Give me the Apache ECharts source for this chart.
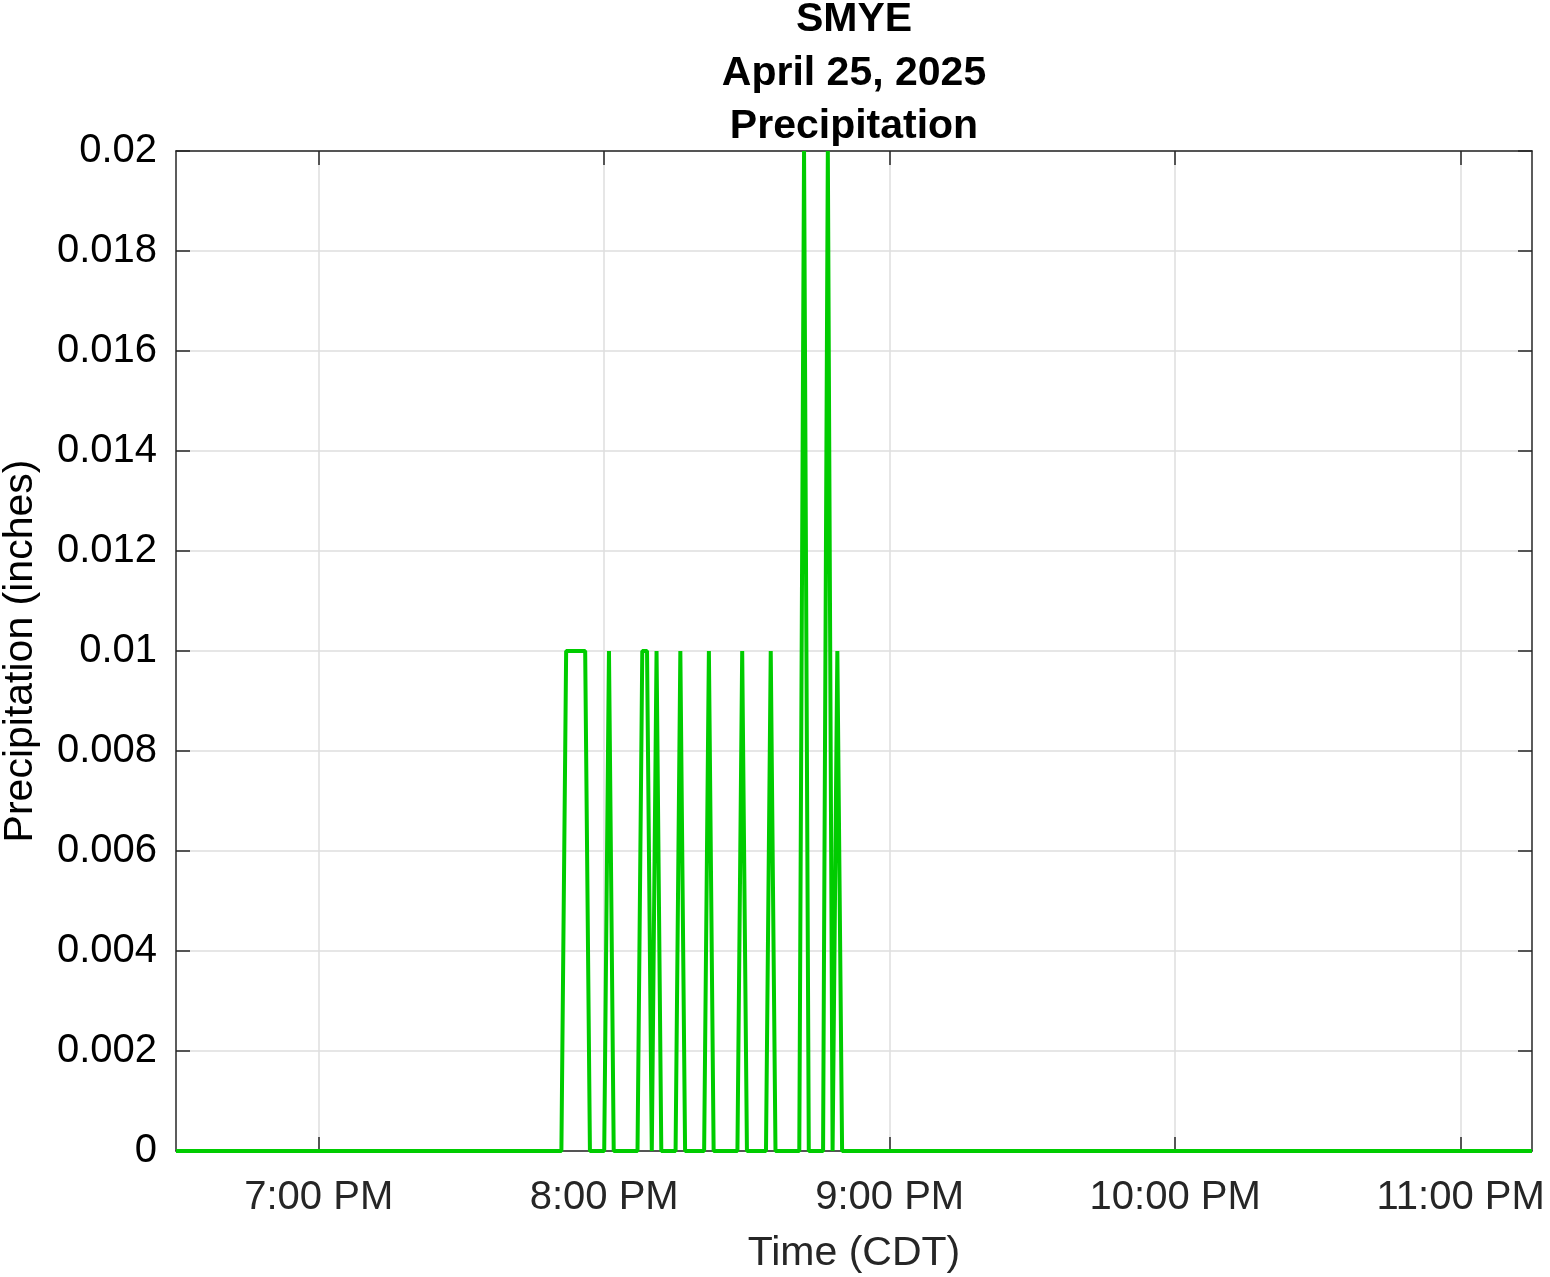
<!DOCTYPE html>
<html>
<head>
<meta charset="utf-8">
<title>SMYE Precipitation</title>
<script src="https://cdn.jsdelivr.net/npm/echarts@6/dist/echarts.min.js"></script>
<style>
  html, body { margin: 0; padding: 0; background: #fff; }
  #chart { width: 1550px; height: 1277px; }
</style>
</head>
<body>
<div id="chart"></div>
<script>
// readings (CDT, HH:MM) and precipitation in inches
const times = ['18:30', '19:51', '19:52', '19:53', '19:54', '19:55', '19:56', '19:57',
  '20:00', '20:01', '20:02', '20:07', '20:08', '20:09', '20:10', '20:11', '20:12',
  '20:15', '20:16', '20:17', '20:21', '20:22', '20:23', '20:28', '20:29', '20:30',
  '20:34', '20:35', '20:36', '20:41', '20:42', '20:43', '20:46', '20:47', '20:48',
  '20:49', '20:50', '23:15'];
const precip = [0, 0, 0.01, 0.01, 0.01, 0.01, 0.01, 0,
  0, 0.01, 0, 0, 0.01, 0.01, 0, 0.01, 0,
  0, 0.01, 0, 0, 0.01, 0, 0, 0.01, 0,
  0, 0.01, 0, 0, 0.02, 0, 0, 0.02, 0,
  0.01, 0, 0];

const xTicks = ['19:00', '20:00', '21:00', '22:00', '23:00'];
const xMin = '18:30';
const xMax = '23:15';
const titleLines = ['SMYE', 'April 25, 2025', 'Precipitation'];

// minutes since midnight
const toMin = s => {
  const p = s.split(':');
  return (+p[0]) * 60 + (+p[1]);
};
const fmtTime = v => {
  const h = Math.floor(v / 60);
  const m = Math.round(v - h * 60);
  const h12 = h > 12 ? h - 12 : h;
  return h12 + ':' + (m < 10 ? '0' + m : m) + (h >= 12 ? ' PM' : ' AM');
};

const seriesData = times.map((t, i) => [toMin(t), precip[i]]);
const tickVals = xTicks.map(toMin);

const font = 'Liberation Sans, Arial, Helvetica, sans-serif';
const axisColor = '#262626';

const chart = echarts.init(document.getElementById('chart'));
chart.setOption({
  animation: false,
  backgroundColor: '#fff',
  textStyle: { fontFamily: font },
  graphic: [{
    type: 'text',
    x: 854,
    y: -7,
    style: {
      text: titleLines.join('\n'),
      align: 'center',
      verticalAlign: 'top',
      fontFamily: font,
      fontWeight: 'bold',
      fontSize: 41,
      lineHeight: 53.5,
      fill: '#000'
    }
  }],
  grid: { left: 176, right: 18, top: 151, bottom: 126, containLabel: false, outerBoundsMode: 'none' },
  xAxis: [{
    type: 'value',
    min: toMin(xMin),
    max: toMin(xMax),
    position: 'bottom',
    name: 'Time (CDT)',
    nameLocation: 'middle',
    nameGap: 82,
    nameTextStyle: { fontSize: 41, color: axisColor, fontFamily: font },
    axisLine: { show: true, onZero: false, lineStyle: { color: axisColor, width: 1.5 } },
    axisTick: { show: true, inside: true, length: 14, customValues: tickVals,
      lineStyle: { color: axisColor, width: 1.5 } },
    axisLabel: { show: true, customValues: tickVals, margin: 27, fontSize: 40,
      color: axisColor, fontFamily: font, formatter: fmtTime },
    splitLine: { show: true, lineStyle: { color: '#dedede', width: 1.5 } }
  }, {
    type: 'value',
    min: toMin(xMin),
    max: toMin(xMax),
    position: 'top',
    axisLine: { show: true, onZero: false, lineStyle: { color: axisColor, width: 1.5 } },
    axisTick: { show: true, inside: true, length: 14, customValues: tickVals,
      lineStyle: { color: axisColor, width: 1.5 } },
    axisLabel: { show: false },
    splitLine: { show: false }
  }],
  yAxis: [{
    type: 'value',
    min: 0,
    max: 0.02,
    interval: 0.002,
    position: 'left',
    name: 'Precipitation (inches)',
    nameLocation: 'middle',
    nameGap: 135,
    nameTextStyle: { fontSize: 41, color: '#000', fontFamily: font },
    axisLine: { show: true, onZero: false, lineStyle: { color: axisColor, width: 1.5 } },
    axisTick: { show: true, inside: true, length: 14, lineStyle: { color: axisColor, width: 1.5 } },
    axisLabel: { show: true, margin: 19, fontSize: 40, color: '#000', fontFamily: font },
    splitLine: { show: true, lineStyle: { color: '#dedede', width: 1.5 } }
  }, {
    type: 'value',
    min: 0,
    max: 0.02,
    interval: 0.002,
    position: 'right',
    axisLine: { show: true, onZero: false, lineStyle: { color: axisColor, width: 1.5 } },
    axisTick: { show: true, inside: true, length: 14, lineStyle: { color: axisColor, width: 1.5 } },
    axisLabel: { show: false },
    splitLine: { show: false }
  }],
  series: [{
    name: 'Precipitation',
    type: 'line',
    xAxisIndex: 0,
    yAxisIndex: 0,
    data: seriesData,
    showSymbol: false,
    symbol: 'none',
    clip: true,
    lineStyle: { color: '#00cc00', width: 4 },
    z: 5
  }]
});
</script>
</body>
</html>
